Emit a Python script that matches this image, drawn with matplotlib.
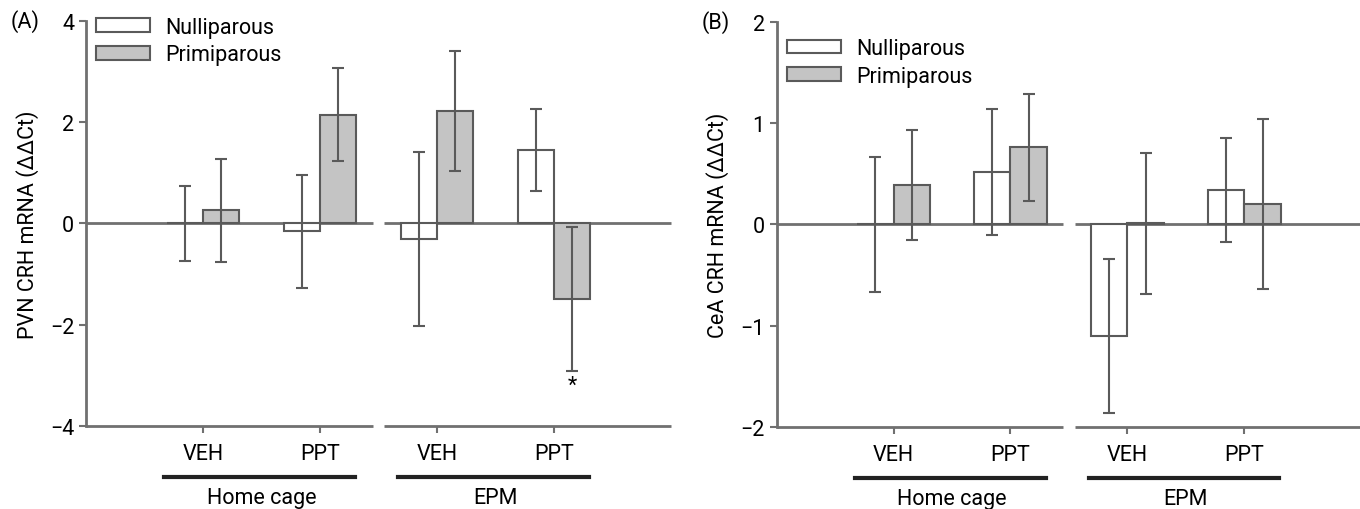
import numpy as np
import matplotlib.pyplot as plt
from matplotlib.patches import Patch

# data
conditions = ["VEH", "PPT", "VEH", "PPT"]
groups = ["Home cage", "EPM"]
series = ["Nulliparous", "Primiparous"]

pvn_null = [0.0, -0.16, -0.30, 1.45]
pvn_null_err = [0.74, 1.11, 1.72, 0.81]
pvn_prim = [0.26, 2.15, 2.22, -1.50]
pvn_prim_err = [1.02, 0.92, 1.19, 1.42]

cea_null = [0.0, 0.52, -1.10, 0.34]
cea_null_err = [0.67, 0.62, 0.76, 0.51]
cea_prim = [0.39, 0.76, 0.01, 0.20]
cea_prim_err = [0.54, 0.53, 0.70, 0.84]

plt.rcParams['font.family'] = ['Roboto', 'DejaVu Sans']
plt.rcParams['font.size'] = 15.5

gray_fill = "#c4c4c4"
edge = "#5a5a5a"
axcol = "#707070"

fig = plt.figure(figsize=(13.6, 5.1), dpi=100)


def panel(rect, null, null_err, prim, prim_err, ylim, yticks, ylabel, tag, leg_y):
    ax = fig.add_axes(rect)
    x = np.arange(1, len(conditions) + 1)
    w = 0.31
    ax.bar(x - w / 2, null, w, color="white", edgecolor=edge, linewidth=1.5, zorder=2)
    ax.bar(x + w / 2, prim, w, color=gray_fill, edgecolor=edge, linewidth=1.5, zorder=2)
    ax.errorbar(x - w / 2, null, yerr=null_err, fmt="none", ecolor=edge,
                elinewidth=1.5, capsize=4, capthick=1.5, zorder=3)
    ax.errorbar(x + w / 2, prim, yerr=prim_err, fmt="none", ecolor=edge,
                elinewidth=1.5, capsize=4, capthick=1.5, zorder=3)

    ax.set_xlim(0, 5)
    ax.set_ylim(*ylim)
    ax.set_yticks(yticks)
    ax.set_yticklabels([str(t).replace("-", "\u2212") for t in yticks])
    ax.set_xticks(x)
    ax.set_xticklabels(conditions)
    ax.set_ylabel(ylabel, labelpad=8)

    for s in ["top", "right", "bottom"]:
        ax.spines[s].set_visible(False)
    ax.spines["left"].set_color(axcol)
    ax.spines["left"].set_linewidth(2)
    ax.tick_params(colors=axcol, labelcolor="black", width=1.5, length=5)
    ax.tick_params(axis="x", pad=7)

    # broken baseline and zero line
    for lo, hi in [(0, 2.45), (2.55, 5)]:
        ax.hlines([ylim[0], 0], lo, hi, color=axcol, linewidth=2, clip_on=False, zorder=1)

    # group lines under tick labels
    for i, g in enumerate(groups):
        c = 1.5 + 2 * i
        ax.plot([c - 0.83, c + 0.8], [-0.126, -0.126], transform=ax.get_xaxis_transform(),
                color="#222222", linewidth=3, clip_on=False)
        ax.text(c, -0.178, g, transform=ax.get_xaxis_transform(), ha="center",
                va="center")

    ax.text(-0.079, 1.0, tag, transform=ax.transAxes, ha="right", va="center")

    handles = [Patch(facecolor="white", edgecolor=edge, linewidth=1.5),
               Patch(facecolor=gray_fill, edgecolor=edge, linewidth=1.5)]
    ax.legend(handles, series, loc="upper left", bbox_to_anchor=(0.018, leg_y),
              frameon=False, borderpad=0, borderaxespad=0, handlelength=2.5,
              handleheight=0.6, handletextpad=0.7, labelspacing=0.3)
    return ax


axA = panel([0.0632, 0.163, 0.430, 0.794], pvn_null, pvn_null_err, pvn_prim, pvn_prim_err,
            (-4, 4), [-4, -2, 0, 2, 4], "PVN CRH mRNA (\u0394\u0394Ct)", "(A)", 1.01)
axA.text(3 + 1 + 0.155, -3.2, "*", ha="center", va="center")

axB = panel([0.571, 0.161, 0.430, 0.794], cea_null, cea_null_err, cea_prim, cea_prim_err,
            (-2, 2), [-2, -1, 0, 1, 2], "CeA CRH mRNA (\u0394\u0394Ct)", "(B)", 0.96)

fig.savefig("out.png", dpi=100)
